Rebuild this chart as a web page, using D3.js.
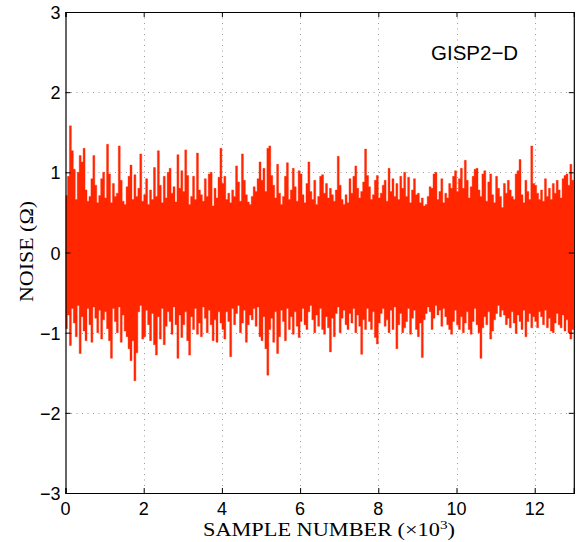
<!DOCTYPE html>
<html>
<head>
<meta charset="utf-8">
<script src="https://cdn.jsdelivr.net/npm/d3@7"></script>
<style>
  html, body { margin: 0; padding: 0; background: #fff; }
  svg { display: block; }
</style>
</head>
<body>
<svg id="chart" width="576" height="542"></svg>
<script>
// ---- data: per-bin (50 samples) maximum and minimum of the noise trace ----
const binSize = 50;
const upper = [
  0.71, 0.95, 1.58, 1.27, 1.04, 0.66, 1.00, 1.21, 1.13, 1.30, 0.78, 0.64, 0.70, 0.92, 1.21, 0.84, 0.62, 0.71, 0.92, 1.00,
  0.68, 1.35, 0.98, 0.62, 0.86, 0.70, 0.74, 1.33, 0.90, 0.64, 0.60, 0.82, 0.95, 1.09, 0.66, 0.97, 0.70, 0.80, 1.23, 0.64,
  0.72, 0.92, 0.60, 0.78, 0.66, 1.06, 0.70, 1.27, 0.84, 0.62, 0.95, 0.68, 1.00, 1.05, 0.74, 0.82, 0.63, 1.22, 0.80, 1.02,
  0.76, 1.28, 0.96, 0.60, 0.70, 0.95, 0.66, 1.24, 0.78, 0.72, 0.64, 0.92, 0.70, 0.98, 1.00, 0.58, 0.80, 0.68, 0.94, 1.30,
  0.86, 0.95, 0.66, 0.74, 0.62, 0.78, 0.70, 1.08, 0.88, 0.64, 1.23, 0.90, 0.72, 0.63, 0.60, 0.70, 0.82, 0.76, 0.92, 1.13,
  0.90, 1.05, 0.76, 1.30, 1.33, 0.96, 0.84, 0.68, 1.10, 0.74, 0.60, 0.70, 0.95, 1.12, 0.66, 0.78, 1.05, 0.82, 0.64, 1.02,
  0.98, 0.72, 0.62, 0.86, 1.13, 0.76, 0.66, 0.90, 0.60, 0.70, 0.95, 0.97, 0.74, 0.86, 0.68, 0.80, 0.72, 0.64, 0.78, 1.20,
  0.84, 0.66, 0.60, 0.72, 0.62, 0.92, 0.74, 0.95, 1.08, 0.80, 0.68, 0.76, 0.88, 1.29, 0.96, 0.82, 0.66, 0.72, 0.90, 0.96,
  0.68, 0.74, 0.84, 0.90, 0.64, 1.05, 0.76, 0.92, 0.70, 0.86, 0.66, 0.95, 0.80, 1.00, 0.70, 0.94, 0.62, 0.78, 0.92, 0.72,
  0.74, 0.62, 0.68, 0.58, 0.60, 0.70, 0.82, 0.80, 0.98, 1.00, 0.66, 0.76, 0.92, 0.62, 0.74, 0.68, 0.86, 0.80, 0.95, 1.02,
  0.76, 0.92, 1.05, 0.80, 1.15, 0.90, 0.68, 0.82, 0.95, 1.04, 1.05, 0.78, 0.70, 0.98, 1.02, 0.64, 0.88, 0.98, 0.72, 0.62,
  0.95, 0.80, 0.70, 0.56, 0.86, 0.74, 0.90, 0.78, 0.70, 0.66, 0.98, 1.02, 1.16, 0.72, 0.62, 0.90, 0.76, 0.66, 1.33, 0.86,
  0.84, 0.74, 0.66, 0.78, 0.64, 0.92, 0.70, 0.80, 0.66, 0.86, 0.74, 0.90, 0.78, 0.68, 0.92, 0.96, 0.98, 0.84, 1.10, 0.90
];
const lower = [
  -0.95, -0.78, -1.16, -0.70, -0.88, -1.05, -0.66, -1.26, -0.80, -0.98, -1.10, -0.70, -0.90, -1.12, -0.68, -0.82, -1.00, -0.72, -1.08, -0.84,
  -0.74, -0.95, -1.10, -1.32, -0.70, -0.86, -1.00, -0.68, -1.12, -0.78, -0.98, -1.05, -1.20, -1.35, -1.10, -1.60, -1.25, -0.74, -0.66, -1.08,
  -1.05, -0.72, -0.90, -1.10, -0.76, -1.15, -1.28, -0.80, -1.08, -0.70, -1.15, -0.92, -0.74, -0.86, -1.02, -0.68, -0.90, -1.32, -0.78, -1.06,
  -0.90, -0.74, -1.10, -1.28, -0.80, -0.96, -0.70, -1.02, -0.88, -1.05, -0.68, -0.82, -1.00, -0.72, -0.90, -1.10, -0.84, -1.12, -0.74, -0.88,
  -0.96, -1.08, -0.74, -0.86, -1.30, -0.70, -0.90, -0.76, -0.66, -1.00, -0.88, -0.72, -1.12, -0.90, -0.78, -0.84, -0.70, -0.92, -0.68, -1.05,
  -1.10, -0.80, -1.20, -1.53, -0.96, -0.82, -1.12, -0.74, -1.26, -1.05, -0.72, -0.86, -1.10, -0.70, -0.96, -0.80, -1.02, -0.74, -0.92, -1.06,
  -0.86, -0.70, -0.90, -0.96, -0.74, -0.66, -0.84, -1.00, -0.78, -0.92, -0.70, -0.96, -1.02, -0.80, -0.94, -1.24, -0.82, -1.05, -0.76, -0.68,
  -1.00, -0.82, -0.72, -0.90, -0.96, -0.76, -0.88, -0.70, -1.00, -0.78, -0.92, -1.27, -0.84, -0.96, -0.70, -0.86, -0.96, -0.74, -1.06, -1.14,
  -0.88, -0.76, -0.70, -0.92, -0.84, -1.00, -0.72, -0.96, -0.68, -1.20, -0.90, -0.76, -1.00, -0.94, -0.86, -0.70, -1.02, -0.82, -0.72, -0.96,
  -1.05, -0.88, -1.31, -0.84, -0.76, -0.68, -0.74, -0.96, -0.82, -0.66, -0.78, -0.72, -0.92, -0.70, -0.80, -0.90, -0.96, -1.02, -0.86, -0.72,
  -0.90, -0.96, -0.80, -1.00, -0.88, -0.74, -0.96, -1.02, -0.86, -0.70, -0.90, -1.00, -1.32, -0.94, -0.80, -0.90, -0.74, -1.08, -0.98, -0.84,
  -0.76, -0.66, -0.80, -0.72, -0.78, -0.90, -0.82, -0.94, -0.74, -0.88, -1.01, -0.78, -0.86, -0.96, -0.72, -1.05, -0.86, -0.76, -0.94, -0.80,
  -0.86, -0.94, -0.74, -0.80, -0.90, -0.72, -0.94, -0.82, -0.98, -1.00, -0.88, -0.76, -0.90, -0.94, -0.78, -0.98, -0.84, -1.00, -1.08, -0.96
];
const xTicks = [0, 2000, 4000, 6000, 8000, 10000, 12000];
const xTickLabels = ["0", "2", "4", "6", "8", "10", "12"];
const yTicks = [-3, -2, -1, 0, 1, 2, 3];
const yTickLabels = ["\u22123", "\u22122", "\u22121", "0", "1", "2", "3"];
const xDomain = [0, 13000];
const yDomain = [-3, 3];

// ---- layout ----
const L = 65.5, R = 573.8, T = 12, B = 493;
const lineColor = "#ff2600";

const svg = d3.select("#chart");
const x = d3.scaleLinear().domain(xDomain).range([L, R]);
const y = d3.scaleLinear().domain(yDomain).range([B, T]);

// grid
const grid = svg.append("g").attr("stroke", "#9a9a9a").attr("stroke-width", 1)
  .attr("stroke-dasharray", "1,4.5");
grid.selectAll("line.gx").data(xTicks.slice(1)).enter().append("line")
  .attr("x1", d => Math.round(x(d)) + 0.5).attr("x2", d => Math.round(x(d)) + 0.5)
  .attr("y1", T).attr("y2", B);
grid.selectAll("line.gy").data(yTicks.slice(1, -1)).enter().append("line")
  .attr("y1", d => Math.round(y(d)) + 0.5).attr("y2", d => Math.round(y(d)) + 0.5)
  .attr("x1", L).attr("x2", R);

// data trace: each 50-sample bin swept from its minimum to its maximum
svg.append("clipPath").attr("id", "clip").append("rect")
  .attr("x", L).attr("y", T).attr("width", R - L).attr("height", B - T);
const bins = upper.map((u, i) => ({ s: i * binSize, hi: u, lo: lower[i] }));
bins.push({ s: upper.length * binSize, hi: upper[upper.length - 1], lo: lower[lower.length - 1] });
const area = d3.area().curve(d3.curveStepAfter)
  .x(d => x(d.s)).y0(d => y(d.lo)).y1(d => y(d.hi));
svg.append("path").attr("clip-path", "url(#clip)")
  .attr("d", area(bins))
  .attr("fill", lineColor).attr("stroke", lineColor).attr("stroke-width", 0.4);

// frame with ticks on all sides
const tickLen = 5;
const axB = d3.axisBottom(x).tickValues(xTicks).tickSize(-tickLen).tickFormat("");
const axT = d3.axisTop(x).tickValues(xTicks).tickSize(-tickLen).tickFormat("");
const axLft = d3.axisLeft(y).tickValues(yTicks).tickSize(-tickLen).tickFormat("");
const axRt = d3.axisRight(y).tickValues(yTicks).tickSize(-tickLen).tickFormat("");
[[axB, `translate(0,${B})`], [axT, `translate(0,${T})`], [axLft, `translate(${L},0)`], [axRt, `translate(${R},0)`]]
  .forEach(([a, tr]) => {
    const g = svg.append("g").attr("transform", tr).call(a);
    g.select(".domain").attr("stroke", "#000").attr("stroke-width", 1.2);
    g.selectAll(".tick line").attr("stroke", "#000").attr("stroke-width", 1);
  });

// tick labels
const tickFont = "'Liberation Sans', Arial, Helvetica, sans-serif";
svg.append("g").selectAll("text").data(xTicks).enter().append("text")
  .attr("x", d => x(d)).attr("y", 515)
  .attr("text-anchor", "middle")
  .attr("font-family", tickFont).attr("font-size", 18).attr("fill", "#000")
  .text((d, i) => xTickLabels[i]);
svg.append("g").selectAll("text").data(yTicks).enter().append("text")
  .attr("x", 60.5).attr("y", d => y(d) + 7)
  .attr("text-anchor", "end")
  .attr("font-family", tickFont).attr("font-size", 18).attr("fill", "#000")
  .text((d, i) => yTickLabels[i]);

// axis titles
const serif = "'Liberation Serif', 'DejaVu Serif', Times, serif";
const xt = svg.append("text").attr("x", 203).attr("y", 536)
  .attr("font-family", serif).attr("font-size", 19).attr("fill", "#000")
  .attr("textLength", 252).attr("lengthAdjust", "spacingAndGlyphs");
xt.append("tspan").text("SAMPLE NUMBER (\u00d710");
xt.append("tspan").attr("font-size", 13).attr("dy", -7).text("3");
xt.append("tspan").attr("dy", 7).text(")");

svg.append("text").attr("transform", "translate(32.5,302) rotate(-90)")
  .attr("font-family", serif).attr("font-size", 19).attr("fill", "#000")
  .attr("textLength", 101).attr("lengthAdjust", "spacingAndGlyphs")
  .text("NOISE (\u03a9)");

// in-plot label
svg.append("text").attr("x", 431).attr("y", 60)
  .attr("font-family", tickFont).attr("font-size", 20.5).attr("fill", "#000")
  .text("GISP2\u2212D");
</script>
</body>
</html>
